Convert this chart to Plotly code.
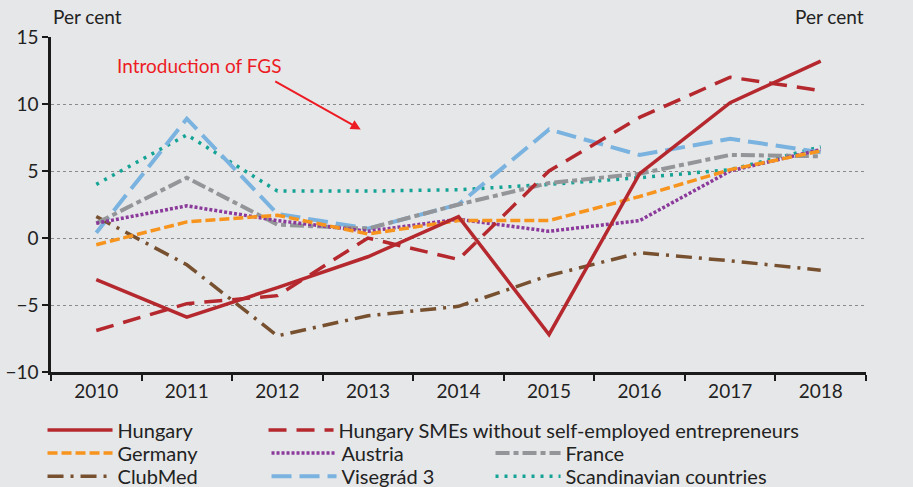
import plotly.graph_objects as go

years = ["2010", "2011", "2012", "2013", "2014", "2015", "2016", "2017", "2018"]

hungary = [-3.1, -5.9, -3.7, -1.4, 1.6, -7.2, 4.8, 10.1, 13.2]
hungary_smes = [-6.9, -4.9, -4.3, 0.0, -1.6, 5.0, 9.0, 12.0, 11.0]
germany = [-0.5, 1.2, 1.7, 0.3, 1.3, 1.3, 3.1, 5.1, 6.5]
austria = [1.1, 2.4, 1.3, 0.5, 1.4, 0.5, 1.3, 5.0, 6.6]
france = [1.1, 4.5, 1.0, 0.7, 2.5, 4.1, 4.8, 6.2, 6.1]
clubmed = [1.6, -2.0, -7.3, -5.8, -5.1, -2.8, -1.1, -1.7, -2.4]
visegrad = [0.4, 8.9, 1.8, 0.7, 2.5, 8.1, 6.2, 7.4, 6.4]
scandinavian = [4.0, 7.7, 3.5, 3.5, 3.6, 4.0, 4.5, 5.1, 6.8]

fgs_year = "2013"

FONT = "Lato"
BG = "#E6E7E9"

# name, values, colour, dash, width, legend, rank
series = [
    ("Scandinavian countries", scandinavian, "#14A395", "3px,6px", 3.5, "legend6", 1),
    ("Visegrád 3", visegrad, "#7AB3DF", "20px,8px", 4, "legend3", 2),
    ("ClubMed", clubmed, "#77502F", "16px,7px,3px,7px", 3.5, "legend3", 1),
    ("France", france, "#939598", "14px,4px,5px,4px", 4, "legend5", 1),
    ("Austria", austria, "#8B3A9B", "3px,2px", 3.5, "legend2", 2),
    ("Germany", germany, "#F7941D", "10px,4px", 3.5, "legend2", 1),
    ("Hungary SMEs without self-employed entrepreneurs", hungary_smes, "#B4282E",
     "18px,10px", 3.5, "legend4", 1),
    ("Hungary", hungary, "#B4282E", "solid", 3.5, "legend", 1),
]

fig = go.Figure()
for name, vals, col, dash, w, leg, rank in series:
    fig.add_trace(
        go.Scatter(
            x=years,
            y=vals,
            name=name,
            mode="lines",
            line={"color": col, "dash": dash, "width": w},
            legend=leg,
            legendrank=rank,
        )
    )

# vertical marker for the FGS introduction
fig.add_shape(
    type="line", xref="x", yref="y", x0=fgs_year, x1=fgs_year, y0=-10, y1=15,
    line={"color": "#ED1C24", "width": 2},
)
fig.add_annotation(
    x=1.14, y=12.85, xref="x", yref="y", text="Introduction of FGS",
    showarrow=False, xanchor="center", font={"family": FONT, "size": 19, "color": "#ED1C24"},
)
fig.add_annotation(
    x=2.92, y=8.1, xref="x", yref="y", text="", showarrow=True,
    ax=-87, ay=-49, arrowhead=2, arrowsize=1, arrowwidth=2, arrowcolor="#ED1C24",
)
fig.add_annotation(
    x=0, y=1.02, xref="paper", yref="paper", text="Per cent", showarrow=False,
    xanchor="left", yanchor="bottom", font={"family": FONT, "size": 19, "color": "#222"},
)
fig.add_annotation(
    x=1, y=1.02, xref="paper", yref="paper", text="Per cent", showarrow=False,
    xanchor="right", yanchor="bottom", font={"family": FONT, "size": 19, "color": "#222"},
)

yax = {
    "range": [-10, 15],
    "tickvals": [-10, -5, 0, 5, 10, 15],
    "showline": True,
    "linecolor": "#1a1a1a",
    "linewidth": 2.5,
    "ticks": "outside",
    "ticklen": 6,
    "tickwidth": 2,
    "tickcolor": "#1a1a1a",
    "zeroline": False,
    "tickfont": {"family": FONT, "size": 19, "color": "#222"},
}

legend_common = {
    "orientation": "h",
    "bgcolor": "rgba(0,0,0,0)",
    "font": {"family": FONT, "size": 20, "color": "#222"},
    "itemwidth": 65,
    "entrywidth": 144,
    "xanchor": "left",
    "yanchor": "middle",
    "x": -0.0104,
    "tracegroupgap": 0,
}
col2_x = -0.0104 + 221 / 815
col3_x = -0.0104 + 448 / 815
row_y = [-0.173, -0.242, -0.311]

fig.update_layout(
    width=913,
    height=487,
    margin={"l": 51, "r": 47, "t": 37, "b": 115, "autoexpand": False},
    paper_bgcolor=BG,
    plot_bgcolor=BG,
    xaxis={
        "type": "category",
        "range": [-0.5, 8.5],
        "tickson": "boundaries",
        "showline": True,
        "linecolor": "#1a1a1a",
        "linewidth": 2.5,
        "ticks": "outside",
        "ticklen": 6,
        "tickwidth": 2,
        "tickcolor": "#1a1a1a",
        "showgrid": False,
        "tickfont": {"family": FONT, "size": 19, "color": "#222"},
    },
    yaxis={
        **yax,
        "showgrid": True,
        "gridcolor": "#8a8a8a",
        "griddash": "dot",
        "gridwidth": 1,
    },
    yaxis2={**yax, "overlaying": "y", "side": "right", "showgrid": False, "matches": "y"},
    legend={**legend_common, "y": row_y[0]},
    legend4={**legend_common, "y": row_y[0], "x": col2_x, "entrywidth": 0},
    legend2={**legend_common, "y": row_y[1]},
    legend5={**legend_common, "y": row_y[1], "x": col3_x, "entrywidth": 0},
    legend3={**legend_common, "y": row_y[2]},
    legend6={**legend_common, "y": row_y[2], "x": col3_x, "entrywidth": 0},
    showlegend=True,
)

# drop the default 8px page margin so the figure fills the window
fig.write_html(
    "out.html",
    config={"displayModeBar": False},
    post_script="document.body.style.margin='0px';",
)
